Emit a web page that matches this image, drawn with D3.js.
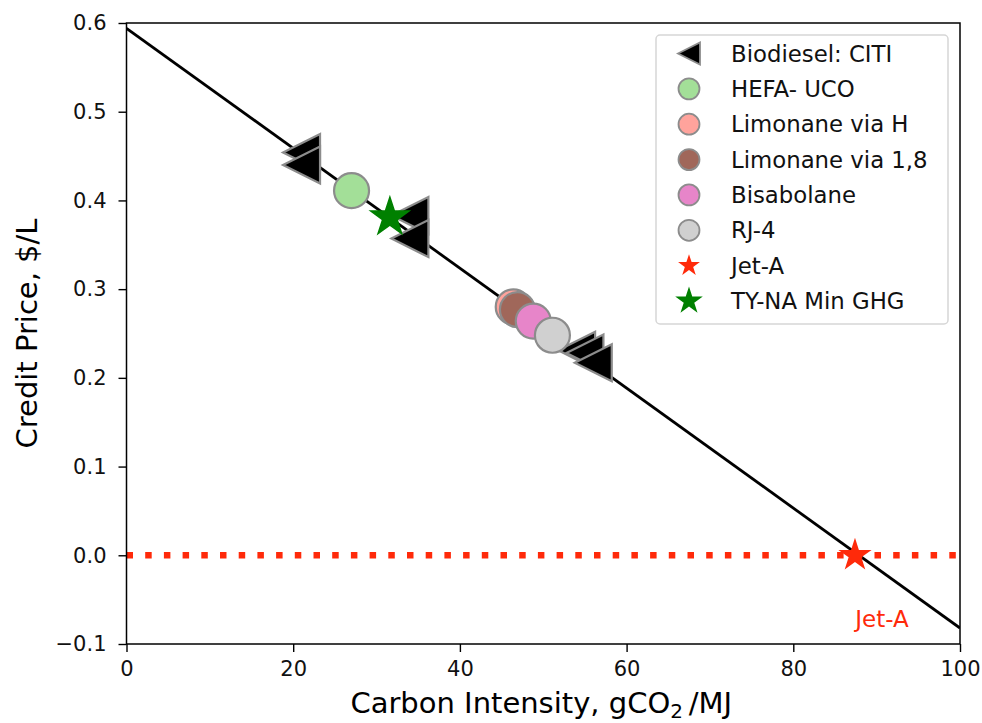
<!DOCTYPE html>
<html>
<head>
<meta charset="utf-8">
<script src="https://cdn.jsdelivr.net/npm/d3@7"></script>
<style>
  body { margin: 0; background: #fff; }
  text { font-family: "DejaVu Sans", sans-serif; }
</style>
</head>
<body>
<svg width="982" height="723"></svg>
<script>
// fit line (carbon intensity vs credit price)
const fitCI = [0, 100];
const fitPrice = [0.594, -0.082];

// Biodiesel: CITI points
const biodieselCI = [21.0, 21.0, 34.0, 34.0, 54.0, 55.0, 56.0];
const biodieselPrice = [0.454, 0.440, 0.383, 0.357, 0.231, 0.228, 0.217];

// circle series
const fuelNames = ["HEFA- UCO", "Limonane via H", "Limonane via 1,8", "Bisabolane", "RJ-4"];
const fuelCI = [27.0, 46.4, 46.9, 48.8, 51.1];
const fuelPrice = [0.411, 0.280, 0.277, 0.264, 0.248];
const fuelColors = ["#a3df98", "#ffa39c", "#a0675a", "#e785c9", "#d0d0d0"];

// stars
const jetCI = 87.4, jetPrice = 0.0;
const tynaCI = 31.6, tynaPrice = 0.381;

const xTicks = [0, 20, 40, 60, 80, 100];
const yTicks = [-0.1, 0.0, 0.1, 0.2, 0.3, 0.4, 0.5, 0.6];

const legendLabels = ["Biodiesel: CITI", "HEFA- UCO", "Limonane via H", "Limonane via 1,8",
  "Bisabolane", "RJ-4", "Jet-A", "TY-NA Min GHG"];

const svg = d3.select("svg");
const margin = {top: 23, right: 22, bottom: 79, left: 126.5};
const width = 982 - margin.left - margin.right;
const height = 723 - margin.top - margin.bottom;

const x = d3.scaleLinear().domain([0, 100]).range([margin.left, margin.left + width]);
const y = d3.scaleLinear().domain([-0.1, 0.6]).range([margin.top + height, margin.top]);

const RED = "#ff2a0a", GREEN = "#008000", EDGE = "#8c8c8c";

// clip
svg.append("clipPath").attr("id", "plotclip").append("rect")
  .attr("x", margin.left).attr("y", margin.top).attr("width", width).attr("height", height);

const plot = svg.append("g").attr("clip-path", "url(#plotclip)");

// fit line
plot.append("line")
  .attr("x1", x(fitCI[0])).attr("y1", y(fitPrice[0]))
  .attr("x2", x(fitCI[1])).attr("y2", y(fitPrice[1]))
  .attr("stroke", "#000").attr("stroke-width", 2.8);

// zero line
plot.append("line")
  .attr("x1", x(0)).attr("y1", y(0)).attr("x2", x(100)).attr("y2", y(0))
  .attr("stroke", RED).attr("stroke-width", 6.5).attr("stroke-dasharray", "6.5,12.2");

function leftTriangle(s) {
  // width = height = s, centred
  const p = d3.path();
  p.moveTo(-s / 2, 0);
  p.lineTo(s / 2, -s / 2);
  p.lineTo(s / 2, s / 2);
  p.closePath();
  return p.toString();
}
function star(r) {
  return d3.symbol(d3.symbolStar, r * r / 0.8908130915292852)();
}

// triangles
plot.selectAll(".tri").data(biodieselCI).enter().append("path")
  .attr("class", "tri")
  .attr("d", leftTriangle(37))
  .attr("transform", (d, i) => `translate(${x(d)},${y(biodieselPrice[i])})`)
  .attr("fill", "#000").attr("stroke", EDGE).attr("stroke-width", 2.2)
  .attr("stroke-linejoin", "miter");

// circles
plot.selectAll(".fuel").data(fuelCI).enter().append("circle")
  .attr("class", "fuel")
  .attr("cx", d => x(d)).attr("cy", (d, i) => y(fuelPrice[i]))
  .attr("r", 17.5)
  .attr("fill", (d, i) => fuelColors[i]).attr("stroke", EDGE).attr("stroke-width", 2.2);

// stars
plot.append("path").attr("d", star(17.5))
  .attr("transform", `translate(${x(jetCI)},${y(jetPrice)})`).attr("fill", RED);
plot.append("path").attr("d", star(22.5))
  .attr("transform", `translate(${x(tynaCI)},${y(tynaPrice)})`).attr("fill", GREEN);

// Jet-A annotation
svg.append("text").attr("x", x(87.4) + 27).attr("y", y(-0.081))
  .attr("text-anchor", "middle").attr("fill", RED).attr("font-size", 23)
  .text("Jet-A");

// frame
svg.append("rect").attr("x", margin.left).attr("y", margin.top)
  .attr("width", width).attr("height", height)
  .attr("fill", "none").attr("stroke", "#000").attr("stroke-width", 1.5);

// axes
const xAxis = svg.append("g").attr("transform", `translate(0,${margin.top + height})`)
  .call(d3.axisBottom(x).tickValues(xTicks).tickFormat(d3.format("d")).tickSize(8).tickPadding(9));
const yAxis = svg.append("g").attr("transform", `translate(${margin.left},0)`)
  .call(d3.axisLeft(y).tickValues(yTicks)
    .tickFormat(d => d < 0 ? "\u2212" + Math.abs(d).toFixed(1) : d.toFixed(1))
    .tickSize(8).tickPadding(12));
[xAxis, yAxis].forEach(a => {
  a.select(".domain").remove();
  a.selectAll(".tick line").attr("stroke", "#000").attr("stroke-width", 1.4);
  a.selectAll(".tick text").attr("font-size", 21).attr("fill", "#111")
    .attr("font-family", "DejaVu Sans, sans-serif");
});

// axis labels
const xl = svg.append("text").attr("x", margin.left + width / 2 - 2).attr("y", 713)
  .attr("text-anchor", "middle").attr("font-size", 29).attr("fill", "#000");
xl.append("tspan").text("Carbon Intensity, gCO");
xl.append("tspan").attr("font-size", 20).attr("dy", 5).text("2");
xl.append("tspan").attr("dy", -5).text("\u2009/MJ");

svg.append("text")
  .attr("transform", `translate(37,${margin.top + height / 2}) rotate(-90)`)
  .attr("text-anchor", "middle").attr("font-size", 29).attr("fill", "#000")
  .text("Credit Price, $/L");

// legend
const lg = svg.append("g");
lg.append("rect").attr("x", 656).attr("y", 35).attr("width", 292).attr("height", 289)
  .attr("rx", 4).attr("fill", "#fff").attr("fill-opacity", 0.8)
  .attr("stroke", "#d6d6d6").attr("stroke-width", 1.5);

const legY = d3.scaleLinear().domain([0, legendLabels.length - 1]).range([53.5, 301]);
legendLabels.forEach((lab, i) => {
  const cy = legY(i), cx = 689;
  if (i === 0) {
    lg.append("path").attr("d", leftTriangle(22)).attr("transform", `translate(${cx},${cy})`)
      .attr("fill", "#000").attr("stroke", EDGE).attr("stroke-width", 1.8);
  } else if (i <= 5) {
    lg.append("circle").attr("cx", cx).attr("cy", cy).attr("r", 10.5)
      .attr("fill", fuelColors[i - 1]).attr("stroke", EDGE).attr("stroke-width", 1.8);
  } else if (i === 6) {
    lg.append("path").attr("d", star(11.5)).attr("transform", `translate(${cx},${cy})`).attr("fill", RED);
  } else {
    lg.append("path").attr("d", star(14.5)).attr("transform", `translate(${cx},${cy})`).attr("fill", GREEN);
  }
  lg.append("text").attr("x", 731).attr("y", cy).attr("dy", "0.36em")
    .attr("font-size", 22.8).attr("fill", "#111").text(lab);
});
</script>
</body>
</html>
